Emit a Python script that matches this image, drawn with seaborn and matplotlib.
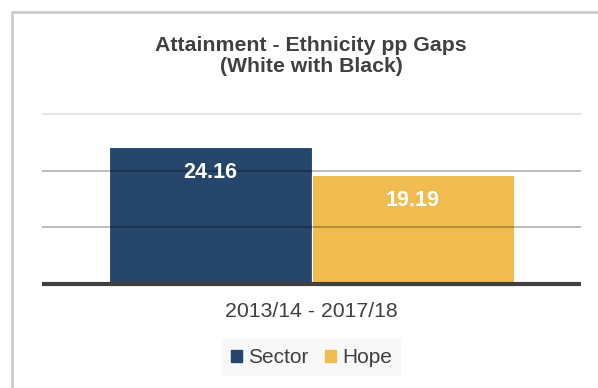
import matplotlib
matplotlib.use("Agg")
import matplotlib.pyplot as plt
import matplotlib.patches as mpatches
import seaborn as sns
import pandas as pd

# Attainment gap (percentage points), White with Black students
periods = ["2013/14 - 2017/18"]
groups = ["Sector", "Hope"]
gaps = [24.16, 19.19]
colors = ["#27466c", "#f0bc50"]

df = pd.DataFrame({
    "period": periods * len(groups),
    "group": groups,
    "gap": gaps,
})

sns.set_theme(style="white")
plt.rcParams["font.family"] = ["Liberation Sans", "DejaVu Sans"]

fig = plt.figure(figsize=(5.98, 3.88), dpi=100)
ax = fig.add_axes([42 / 598, 1 - 284 / 388, (581 - 42) / 598, (284 - 114) / 388])

sns.barplot(data=df, x="period", y="gap", hue="group", palette=colors,
            saturation=1, width=0.75, ax=ax, legend=False,
            edgecolor="#ffffff", linewidth=0.8, zorder=2)

ax.set_ylim(0, 30)
ax.set_xlim(-0.5, 0.5)

# gridlines
for y in (10, 20):
    ax.axhline(y, color="black", alpha=0.3, lw=1.2, zorder=3)
ax.axhline(30, color="#e2e2e2", lw=1.2, zorder=1, clip_on=False)
ax.axhline(0, color="#404040", lw=3, zorder=4, clip_on=False, solid_capstyle="butt")

for s in ax.spines.values():
    s.set_visible(False)
ax.set_yticks([])
ax.tick_params(axis="x", length=0, pad=13, labelsize=15.3, labelcolor="#404040")
ax.set_xlabel("")
ax.set_ylabel("")

# value labels inside the top of each bar
for bar, v in zip(ax.patches, gaps):
    ax.annotate(f"{v:.2f}", (bar.get_x() + bar.get_width() / 2, bar.get_height()),
                xytext=(0, -18.5), textcoords="offset points", ha="center", va="center",
                color="white", fontsize=15.5, fontweight="bold", zorder=5)

title_lines = ["Attainment - Ethnicity pp Gaps", "(White with Black)"]
for line, ypix in zip(title_lines, (45.5, 67)):
    fig.text(311 / 598, 1 - ypix / 388, line, ha="center", va="center",
             fontsize=15.3, fontweight="bold", color="#404040")

handles = [mpatches.Patch(color=c, label=g) for g, c in zip(groups, colors)]
leg = fig.legend(handles=handles, loc="center", bbox_to_anchor=(311.5 / 598, 1 - 357.5 / 388),
                 ncol=2, frameon=True, fontsize=15, handlelength=0.5, handleheight=0.5,
                 handletextpad=0.3, columnspacing=0.8, borderpad=0.45, fancybox=False,
                 labelcolor="#404040")
leg.get_frame().set_facecolor("#f7f7f7")
leg.get_frame().set_edgecolor("none")

# outer panel border
fig.patches.append(mpatches.Rectangle((12 / 598, -0.1), 1.2, 1 - 12 / 388 + 0.1,
                                      transform=fig.transFigure, fill=False,
                                      edgecolor="#c8c8c8", lw=1.8))

fig.savefig("out.png", dpi=100, facecolor="white")
